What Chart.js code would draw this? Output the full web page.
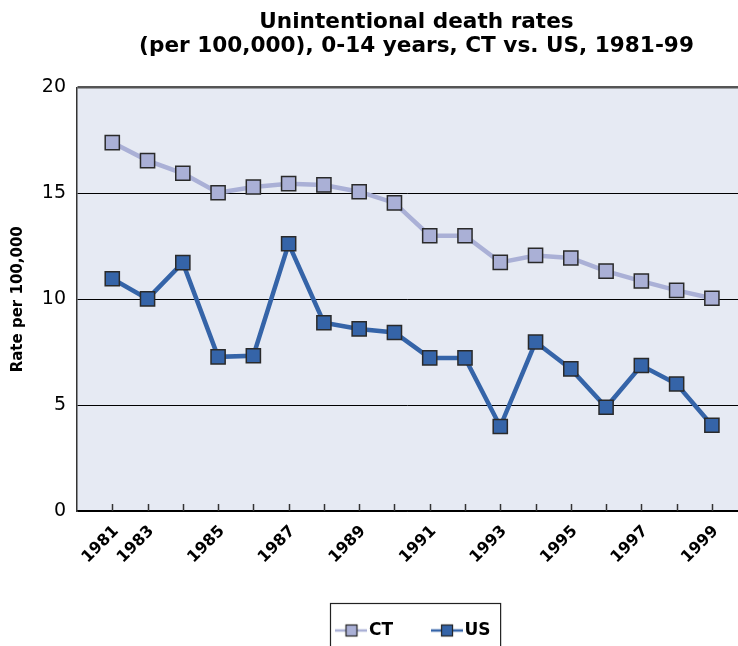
<!DOCTYPE html>
<html lang="en">
<head>
<meta charset="UTF-8">
<title>Unintentional death rates, CT vs. US</title>
<script src="https://cdn.jsdelivr.net/npm/chart.js"></script>
<style>
  html, body { margin: 0; padding: 0; background: #fff; overflow: hidden; }
  #wrap { width: 738px; height: 646px; }
</style>
</head>
<body>
<div id="wrap"><canvas id="chart" width="738" height="646"></canvas></div>
<script>
// Data (one point per year slot)
const tickLabels = ['1981', '1983', '', '1985', '', '1987', '', '1989', '', '1991', '', '1993', '', '1995', '', '1997', '', '1999'];
const ctRates = [17.4, 16.55, 15.95, 15.03, 15.3, 15.46, 15.4, 15.08, 14.55, 13.0, 13.0, 11.74, 12.07, 11.95, 11.33, 10.86, 10.42, 10.05];
const usRates = [10.97, 10.02, 11.73, 7.28, 7.33, 12.62, 8.89, 8.6, 8.43, 7.23, 7.23, 3.99, 7.98, 6.71, 4.9, 6.87, 6.0, 4.05];
const yTicks = [0, 5, 10, 15, 20];

const FONT = "'DejaVu Sans', Verdana, sans-serif";
const ctColor = '#aab0d6';
const usColor = '#3564a8';

// legend icon: short line with a square on it
function legendIcon(color) {
    const c = document.createElement('canvas');
    c.width = 32; c.height = 16;
    const g = c.getContext('2d');
    g.strokeStyle = color; g.lineWidth = 2.5;
    g.beginPath(); g.moveTo(0, 8); g.lineTo(32, 8); g.stroke();
    g.fillStyle = color; g.fillRect(10, 2, 12, 12);
    g.strokeStyle = '#222'; g.lineWidth = 1.2; g.strokeRect(10.5, 2.5, 11, 11);
    return c;
}

// plot background, x tick marks, legend frame
const extras = {
    id: 'extras',
    afterLayout(chart) {
        // the original plot runs past the right edge of the picture, so
        // title and legend sit a little right of the visible plot centre
        if (chart.titleBlock) { chart.titleBlock.left += 9; chart.titleBlock.right += 9; }
        if (chart.legend) { chart.legend.left += 9; chart.legend.right += 9; }
    },
    beforeDraw(chart) {
        const a = chart.chartArea, ctx = chart.ctx;
        ctx.save();
        ctx.fillStyle = '#e6eaf3';
        ctx.fillRect(a.left, a.top, a.right - a.left, a.bottom - a.top);
        ctx.restore();
    },
    afterDraw(chart) {
        const ctx = chart.ctx, x = chart.scales.x, a = chart.chartArea;
        ctx.save();
        ctx.strokeStyle = '#333'; ctx.lineWidth = 1.5;
        ctRates.forEach((v, i) => {
            const px = Math.round(x.getPixelForValue(i)) + 0.5;
            ctx.beginPath(); ctx.moveTo(px, a.bottom); ctx.lineTo(px, a.bottom - 7); ctx.stroke();
        });
        const lg = chart.legend;
        if (lg && lg.legendHitBoxes && lg.legendHitBoxes.length) {
            const boxes = lg.legendHitBoxes;
            const l = Math.min(...boxes.map(b => b.left)) - 12;
            const r = Math.max(...boxes.map(b => b.left + b.width)) + 10;
            const t = Math.min(...boxes.map(b => b.top)) - 19;
            ctx.strokeStyle = '#222'; ctx.lineWidth = 1.2;
            ctx.strokeRect(Math.round(l) + 0.5, Math.round(t) + 0.5, r - l, 80);
        }
        ctx.restore();
    }
};

new Chart(document.getElementById('chart'), {
    type: 'line',
    data: {
        datasets: [{
            label: 'CT',
            data: ctRates.map((v, i) => ({ x: i, y: v })),
            borderColor: ctColor,
            borderWidth: 4.5,
            pointStyle: 'rect',
            pointRadius: 10,
            pointHoverRadius: 10,
            pointBackgroundColor: ctColor,
            pointBorderColor: '#2a2a2a',
            pointBorderWidth: 1.5,
            tension: 0
        }, {
            label: 'US',
            data: usRates.map((v, i) => ({ x: i, y: v })),
            borderColor: usColor,
            borderWidth: 4.5,
            pointStyle: 'rect',
            pointRadius: 10,
            pointHoverRadius: 10,
            pointBackgroundColor: usColor,
            pointBorderColor: '#2a2a2a',
            pointBorderWidth: 1.5,
            tension: 0
        }]
    },
    options: {
        responsive: false,
        animation: false,
        layout: { autoPadding: false, padding: { top: 0, left: 0, right: 0, bottom: -3 } },
        plugins: {
            title: {
                display: true,
                fullSize: false,
                text: ['Unintentional death rates', '(per 100,000), 0-14 years, CT vs. US, 1981-99'],
                color: '#000',
                font: { family: FONT, size: 21.6, weight: 'bold', lineHeight: 1.1 },
                padding: { top: 11, bottom: 29 }
            },
            legend: {
                position: 'bottom',
                fullSize: false,
                labels: {
                    usePointStyle: true,
                    pointStyleWidth: 18,
                    padding: 45,
                    color: '#000',
                    font: { family: FONT, size: 17, weight: 'bold' },
                    generateLabels(chart) {
                        return chart.data.datasets.map((ds, i) => ({
                            text: ds.label,
                            pointStyle: legendIcon(ds.borderColor),
                            fillStyle: ds.borderColor,
                            strokeStyle: ds.borderColor,
                            lineWidth: 0,
                            datasetIndex: i,
                            fontColor: '#000'
                        }));
                    }
                }
            },
            tooltip: { enabled: false }
        },
        scales: {
            x: {
                type: 'linear',
                min: -1,
                max: 17.74,
                afterBuildTicks(scale) { scale.ticks = tickLabels.map((t, i) => ({ value: i })); },
                afterFit(scale) { scale.height = 66; scale.paddingLeft = 0; scale.paddingRight = 0; },
                grid: { display: true, color: 'rgba(0,0,0,0)', drawTicks: false },
                border: { display: true, color: '#000', width: 1.5 },
                ticks: {
                    autoSkip: false,
                    minRotation: 45,
                    maxRotation: 45,
                    padding: 11,
                    labelOffset: 4,
                    color: '#000',
                    font: { family: FONT, size: 16, weight: 'bold' },
                    callback: (v) => tickLabels[v] !== undefined ? tickLabels[v] : ''
                }
            },
            y: {
                min: 0,
                max: 20,
                afterFit(scale) { scale.width = 77; },
                afterBuildTicks(scale) { scale.ticks = yTicks.map(v => ({ value: v })); },
                grid: {
                    drawTicks: false,
                    color: (c) => c.tick && c.tick.value === 20 ? '#555' : '#000',
                    lineWidth: (c) => c.tick && c.tick.value === 20 ? 2.5 : 1
                },
                border: { display: true, color: '#333', width: 1.5 },
                ticks: {
                    padding: 11,
                    color: '#000',
                    font: { family: FONT, size: 19 }
                },
                title: {
                    display: true,
                    text: 'Rate per 100,000',
                    color: '#000',
                    font: { family: FONT, size: 15, weight: 'bold' },
                    padding: { top: 9, bottom: 0 }
                }
            }
        }
    },
    plugins: [extras]
});
</script>
</body>
</html>
